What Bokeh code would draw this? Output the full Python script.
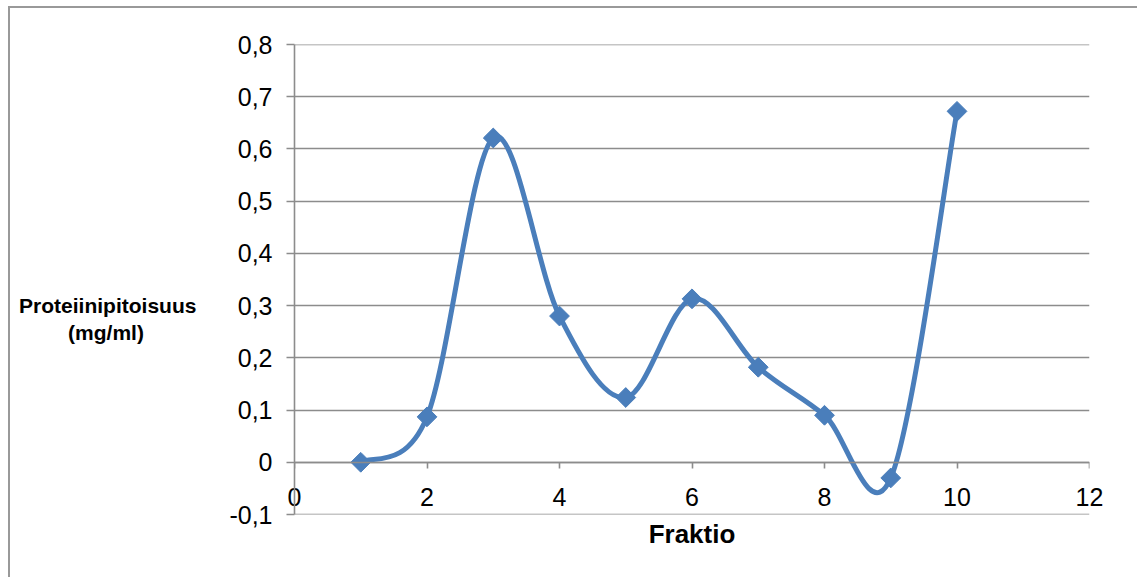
from bokeh.plotting import figure
from bokeh.models import (FixedTicker, CustomJSTickFormatter, ColumnDataSource,
                          LinearAxis, Span)
from bokeh.embed import file_html
from bokeh.resources import INLINE

# Protein content of each collected fraction
fraktio = [1, 2, 3, 4, 5, 6, 7, 8, 9, 10]
proteiini = [0.0, 0.087, 0.621, 0.280, 0.124, 0.313, 0.182, 0.090, -0.030, 0.672]

x_ticks = [0, 2, 4, 6, 8, 10, 12]
y_ticks = [-0.1, 0.0, 0.1, 0.2, 0.3, 0.4, 0.5, 0.6, 0.7, 0.8]

y_title = ["Proteiinipitoisuus", "(mg/ml)"]
x_title = "Fraktio"

BLUE = "#4A7EBB"
GREY = "#8C8C8C"
FONT = "Liberation Sans"
NBSP = "\u00a0"


def smooth_segments(xs, ys, k=1.0 / 6.0):
    """Cardinal-spline Bezier segments through the points (end points repeated)."""
    n = len(xs)
    seg = dict(x0=[], y0=[], x1=[], y1=[], cx0=[], cy0=[], cx1=[], cy1=[])
    for i in range(n - 1):
        a = max(i - 1, 0)
        d = min(i + 2, n - 1)
        seg["x0"].append(xs[i]); seg["y0"].append(ys[i])
        seg["x1"].append(xs[i + 1]); seg["y1"].append(ys[i + 1])
        seg["cx0"].append(xs[i] + (xs[i + 1] - xs[a]) * k)
        seg["cy0"].append(ys[i] + (ys[i + 1] - ys[a]) * k)
        seg["cx1"].append(xs[i + 1] - (xs[d] - xs[i]) * k)
        seg["cy1"].append(ys[i + 1] - (ys[d] - ys[i]) * k)
    return seg


p = figure(
    frame_width=795, frame_height=470,
    x_range=(0, 12), y_range=(-0.1, 0.8),
    output_backend="svg", toolbar_location=None,
    min_border_left=284, min_border_top=36, min_border_right=48, min_border_bottom=63,
)
p.margin = (6, 0, 0, 8)
p.styles = {"border-top": "2px solid #999999", "border-left": "2px solid #999999"}
p.outline_line_color = None
p.background_fill_color = "white"
p.border_fill_color = "white"

# horizontal grid, including both range ends
p.xgrid.visible = False
p.ygrid.ticker = FixedTicker(ticks=y_ticks)
p.ygrid.grid_line_color = GREY
p.ygrid.grid_line_width = 1.6
for edge in (y_ticks[0], y_ticks[-1]):
    p.add_layout(Span(location=edge, dimension="width",
                      line_color=GREY, line_width=1.6))

# y axis
p.yaxis.ticker = FixedTicker(ticks=y_ticks)
p.yaxis.formatter = CustomJSTickFormatter(code="""
    if (Math.abs(tick) < 1e-9) { return '0'; }
    return tick.toFixed(1).replace('.', ',');
""")
p.yaxis.axis_line_color = GREY
p.yaxis.axis_line_width = 1.6
p.yaxis.major_tick_line_color = GREY
p.yaxis.major_tick_line_width = 1.6
p.yaxis.major_tick_out = 8
p.yaxis.major_tick_in = 0
p.yaxis.minor_tick_line_color = None
p.yaxis.major_label_standoff = 14
p.yaxis.major_label_text_font = FONT
p.yaxis.major_label_text_font_size = "25px"
p.yaxis.major_label_text_color = "black"

# horizontal, two-line title: blank lead lines lower it, the short line is
# padded so that both lines share one centre
p.yaxis.axis_label = "\n\n\n" + y_title[0] + "\n" + y_title[1] + NBSP * 9
p.yaxis.axis_label_orientation = "horizontal"
p.yaxis.axis_label_text_font = FONT
p.yaxis.axis_label_text_font_style = "bold"
p.yaxis.axis_label_text_font_size = "21px"
p.yaxis.axis_label_text_line_height = 1.15
p.yaxis.axis_label_text_color = "black"
p.yaxis.axis_label_standoff = 30

# x-axis labels sit just under the zero line
p.xaxis.ticker = FixedTicker(ticks=x_ticks)
p.xaxis.axis_line_color = None
p.xaxis.major_tick_line_color = None
p.xaxis.minor_tick_line_color = None
p.xaxis.major_label_standoff = -33
p.xaxis.major_label_text_font = FONT
p.xaxis.major_label_text_font_size = "25px"
p.xaxis.major_label_text_color = "black"
p.xaxis.axis_label = x_title
p.xaxis.axis_label_text_font = FONT
p.xaxis.axis_label_text_font_style = "bold"
p.xaxis.axis_label_text_font_size = "26px"
p.xaxis.axis_label_text_color = "black"
p.xaxis.axis_label_standoff = 10

# zero line with its tick marks
zero_axis = LinearAxis(fixed_location=0, ticker=FixedTicker(ticks=x_ticks),
                       axis_line_color=GREY, axis_line_width=1.6,
                       major_tick_line_color=GREY, major_tick_line_width=1.6,
                       major_tick_out=6, major_tick_in=0,
                       minor_tick_line_color=None,
                       major_label_text_font_size="0px", major_label_text_alpha=0)
p.add_layout(zero_axis, "below")

# smoothed line and diamond markers
p.bezier(source=ColumnDataSource(smooth_segments(fraktio, proteiini)),
         x0="x0", y0="y0", x1="x1", y1="y1",
         cx0="cx0", cy0="cy0", cx1="cx1", cy1="cy1",
         line_color=BLUE, line_width=5)
p.scatter(fraktio, proteiini, marker="square", angle=0.785398, size=14,
          fill_color=BLUE, line_color=BLUE)

open("out.html", "w").write(file_html(p, INLINE))
